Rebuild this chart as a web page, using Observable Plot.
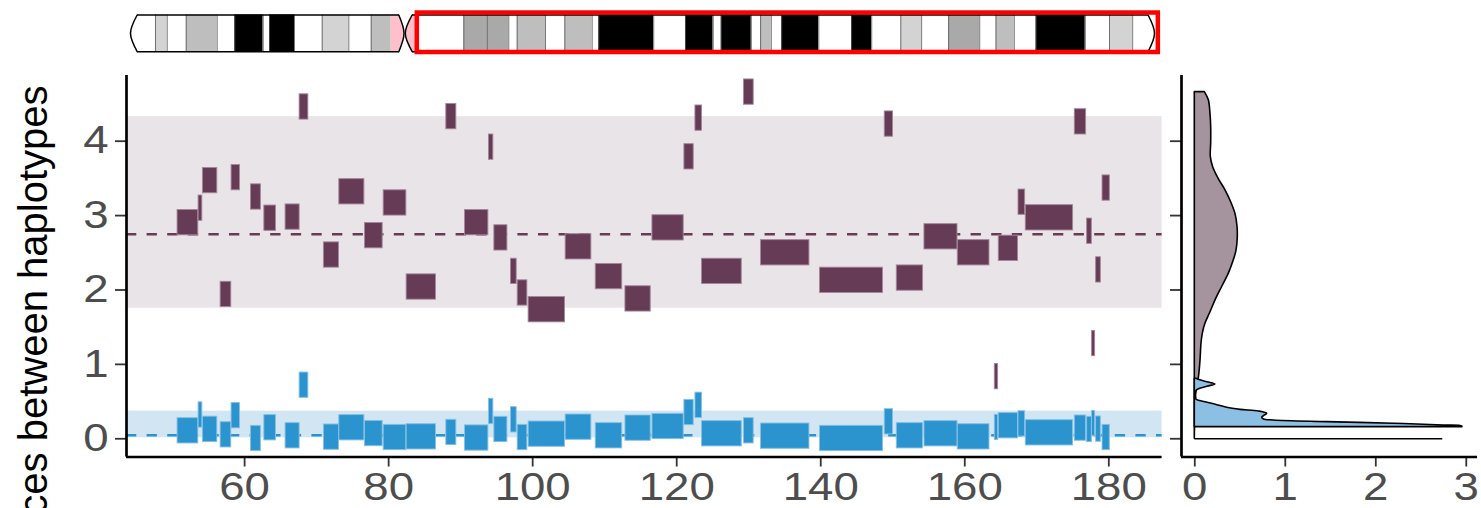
<!DOCTYPE html>
<html><head><meta charset="utf-8">
<script src="https://cdn.jsdelivr.net/npm/d3@7"></script>
<script src="https://cdn.jsdelivr.net/npm/@observablehq/plot@0.6"></script>
<style>
html,body{margin:0;padding:0;background:#fff;}
#wrap{position:relative;width:1481px;height:508px;overflow:hidden;background:#fff;font-family:"Liberation Sans",Arial,sans-serif;}
#wrap svg{position:absolute;}
</style></head><body><div id="wrap"></div>
<script>
// ---------- data: genomic segments (Mb) ----------
const segStart = [50.69, 53.61, 54.21, 56.67, 58.19, 60.88, 62.74, 65.69, 67.64, 71.01, 73.15, 76.71, 79.31, 82.50, 88.01, 90.60, 93.93, 94.68, 96.99, 97.92, 99.44, 104.58, 108.76, 112.88, 116.63, 121.07, 122.60, 123.51, 129.35, 131.71, 139.90, 148.89, 150.56, 154.40, 159.03, 164.17, 164.72, 167.46, 168.47, 175.28, 176.99, 177.68, 178.24, 179.13];
const segEnd = [53.57, 54.13, 56.21, 58.15, 59.35, 62.26, 64.35, 67.64, 68.85, 73.10, 76.63, 79.17, 82.46, 86.57, 89.40, 93.85, 94.54, 96.49, 97.78, 99.26, 104.49, 108.15, 112.43, 116.39, 120.97, 122.36, 123.51, 129.03, 130.69, 138.43, 148.65, 150.04, 154.21, 158.99, 163.43, 164.63, 167.40, 168.38, 175.04, 176.85, 177.64, 178.10, 178.89, 180.14];
const purpleValues = [2.905, 3.10, 3.47, 1.94, 3.51, 3.25, 2.965, 2.98, 4.46, 2.47, 3.32, 2.73, 3.17, 2.04, 4.33, 2.905, 3.92, 2.70, 2.25, 1.96, 1.735, 2.58, 2.18, 1.88, 2.835, 3.79, 4.31, 2.25, 4.66, 2.50, 2.13, 4.23, 2.16, 2.715, 2.50, 0.835, 2.56, 3.18, 2.97, 4.26, 2.79, 1.28, 2.27, 3.37];
const blueValues = [0.107, 0.32, 0.127, 0.053, 0.31, 0.004, 0.148, 0.04, 0.72, 0.022, 0.148, 0.07, 0.017, 0.026, 0.085, 0.01, 0.367, 0.125, 0.255, 0.017, 0.062, 0.156, 0.04, 0.143, 0.165, 0.353, 0.45, 0.067, 0.107, 0.035, 0.004, 0.228, 0.04, 0.067, 0.026, 0.152, 0.175, 0.2, 0.08, 0.143, 0.125, 0.205, 0.13, 0.017];
// summary lines / bands
const purpleMean = 2.75, purpleBandLow = 1.755, purpleBandHigh = 4.33;
const blueMean = 0.048, blueBandLow = 0.013, blueBandHigh = 0.371;
// tick labels
const xTicks = [60, 80, 100, 120, 140, 160, 180];
const yTicks = [0, 1, 2, 3, 4];
const densTicks = [0, 1, 2, 3];
const yTitle = "Differences between haplotypes";
// ---------- density outlines (right panel) ----------
const purpleDensY = [4.66, 4.55, 4.37, 4.19, 3.97, 3.79, 3.65, 3.49, 3.34, 3.18, 3.02, 2.85, 2.71, 2.53, 2.40, 2.22, 2.04, 1.86, 1.68, 1.55, 1.41, 1.28, 1.05, 0.87, 0.78, 0.61, 0.47, 0.30, 0.15, 0.0];
const purpleDensX = [0.111, 0.155, 0.173, 0.181, 0.181, 0.177, 0.203, 0.265, 0.339, 0.402, 0.450, 0.472, 0.475, 0.461, 0.431, 0.376, 0.302, 0.229, 0.166, 0.118, 0.088, 0.074, 0.063, 0.050, 0.040, 0.015, 0.008, 0.004, 0.002, 0.0];
const blueDensY = [0.806, 0.79, 0.76, 0.73, 0.70, 0.665, 0.645, 0.60, 0.55, 0.524, 0.492, 0.455, 0.416, 0.389, 0.367, 0.336, 0.31, 0.282, 0.26, 0.246, 0.224, 0.202, 0.179, 0.165, 0.156];
const blueDensX = [0.02, 0.05, 0.14, 0.228, 0.14, 0.045, 0.02, 0.012, 0.015, 0.02, 0.118, 0.24, 0.358, 0.505, 0.708, 0.80, 0.77, 0.745, 0.763, 0.874, 1.46, 2.2, 2.75, 2.956, 2.956];
const zeroPeak = 2.74;
// ---------- chromosome ideogram (Mb) ----------
const chrLength = 190.19;
const bandStart = [0, 4.64, 6.82, 10.35, 16.10, 19.37, 24.65, 25.82, 30.46, 35.61, 40.55, 44.71, 48.42, 50.89, 53.31, 61.91, 66.25, 70.26, 71.82, 77.08, 80.67, 85.75, 86.98, 97.18, 103.08, 108.23, 109.72, 115.31, 117.03, 119.02, 120.95, 127.84, 133.93, 137.67, 143.07, 146.94, 151.95, 157.73, 160.75, 164.15, 168.20, 177.34, 181.83, 186.14];
const bandEnd = [4.64, 6.82, 10.35, 16.10, 19.37, 24.65, 25.82, 30.46, 35.61, 40.55, 44.71, 48.42, 50.89, 53.31, 61.91, 66.25, 70.26, 71.82, 77.08, 80.67, 85.75, 86.98, 97.18, 103.08, 108.23, 109.72, 115.31, 117.03, 119.02, 120.95, 127.84, 133.93, 137.67, 143.07, 146.94, 151.95, 157.73, 160.75, 164.15, 168.20, 177.34, 181.83, 186.14, 190.19];
const bandStain = ["gneg","gpos25","gneg","gpos50","gneg","gpos100","gneg","gpos100","gneg","gpos25","gneg","gpos50","acen","acen","gneg","gpos75","gpos75","gneg","gpos50","gneg","gpos50","gneg","gpos100","gneg","gpos100","gneg","gpos100","gneg","gpos50","gneg","gpos100","gneg","gpos100","gneg","gpos25","gneg","gpos75","gneg","gpos50","gneg","gpos100","gneg","gpos25","gneg"];
const capY = [1, 0.5, 0];
const leftCapX = [1.24, 0, 1.24];
const pArcX = [49.83, 50.80, 49.83];
const qArcX = [52.32, 51.04, 52.32];
const rightCapX = [189.0, 190.19, 189.0];
const highlight = {start: 53.27, end: 190.9};

// ---------- build tables ----------
const segs = segStart.map((s, i) => ({start: s, end: segEnd[i], purple: purpleValues[i], blue: blueValues[i]}));
const purpleDens = purpleDensY.map((y, i) => ({y, x: purpleDensX[i]}));
const blueDens = blueDensY.map((y, i) => ({y, x: blueDensX[i]}));
const stainColor = {gneg: "#FFFFFF", gpos25: "#D3D3D3", gpos50: "#BEBEBE", gpos75: "#A9A9A9", gpos100: "#000000", acen: "#FFC0CB"};
const bands = bandStart.map((s, i) => ({start: s, end: bandEnd[i], stain: bandStain[i]}));
const dividers = bands.slice(1).filter((b, i) => b.stain !== "acen" && bands[i].stain !== "acen").map(b => b.start);
const cenP = capY.map((y, i) => ({y, x1: bandStart[12], x2: pArcX[i]}));
const cenQ = capY.map((y, i) => ({y, x1: qArcX[i], x2: bandEnd[13]}));
const arcs = [];
[["l", leftCapX], ["p", pArcX], ["q", qArcX], ["r", rightCapX]].forEach(([k, xs]) => xs.forEach((x, i) => arcs.push({arc: k, x, y: capY[i]})));
const edges = [
  {x1: leftCapX[0], x2: pArcX[0], y: 1}, {x1: leftCapX[0], x2: pArcX[0], y: 0},
  {x1: qArcX[0], x2: rightCapX[0], y: 1}, {x1: qArcX[0], x2: rightCapX[0], y: 0}
];

const FONT = '"Liberation Sans", Arial, sans-serif';
const yDom = [-0.245, 4.883];
const halfH = 0.17;
const purple = "#663B56", blue = "#2B94CE";
const wrap = document.getElementById("wrap");
function place(svg, left, top) {
  svg.style.position = "absolute"; svg.style.left = left + "px"; svg.style.top = top + "px";
  svg.style.background = "transparent"; svg.style.maxWidth = "none";
  wrap.appendChild(svg);
}
function widenLabels(svg) {
  d3.select(svg).selectAll('g[aria-label$="tick label"] text').each(function () {
    const t = this.getAttribute("transform") || "";
    this.setAttribute("transform", t + " scale(1.2,1)");
  });
}

// ---------- main panel ----------
const main = Plot.plot({
  width: 1170, height: 508, marginLeft: 126, marginRight: 8.4, marginTop: 75, marginBottom: 51.5,
  style: {fontFamily: FONT, background: "transparent", color: "black"},
  x: {domain: [43.6, 187.4]},
  y: {domain: yDom},
  marks: [
    Plot.rect([{lo: purpleBandLow, hi: purpleBandHigh}], {y1: "lo", y2: "hi", fill: "#E9E4E8"}),
    Plot.rect([{lo: blueBandLow, hi: blueBandHigh}], {y1: "lo", y2: "hi", fill: "#D2E5F2"}),
    Plot.ruleY([purpleMean], {stroke: purple, strokeWidth: 2.6, strokeDasharray: "10.3,10.3"}),
    Plot.ruleY([blueMean], {stroke: blue, strokeWidth: 2.6, strokeDasharray: "10.3,10.3"}),
    Plot.rect(segs, {x1: "start", x2: "end", y1: d => d.purple - halfH, y2: d => d.purple + halfH, fill: purple, stroke: "#A5879A", strokeWidth: 0.9}),
    Plot.rect(segs, {x1: "start", x2: "end", y1: d => d.blue - halfH, y2: d => d.blue + halfH, fill: blue, stroke: "#86C0E6", strokeWidth: 0.9}),
    Plot.axisX({ticks: xTicks, tickFormat: "d", tickSize: 10, tickPadding: 6, fontSize: 38, stroke: "#333333", strokeWidth: 1.8, fill: "#4D4D4D", label: null}),
    Plot.axisY({ticks: yTicks, tickFormat: "d", tickSize: 11, tickPadding: 7, fontSize: 38, stroke: "#333333", strokeWidth: 1.8, fill: "#4D4D4D", label: null}),
    Plot.ruleY([yDom[0]], {stroke: "black", strokeWidth: 2.7}),
    Plot.ruleX([43.6], {stroke: "black", strokeWidth: 2.7}),
    Plot.text([yTitle], {frameAnchor: "top-left", dx: -108, dy: 10, rotate: -90, textAnchor: "end", fontSize: 40, fill: "black"})
  ]
});
widenLabels(main);
place(main, 0, 0);

// ---------- density panel ----------
const dens = Plot.plot({
  width: 311, height: 508, marginLeft: 11, marginRight: 4, marginTop: 75, marginBottom: 51.5,
  style: {fontFamily: FONT, background: "transparent", color: "black"},
  x: {domain: [-0.147, 3.124]},
  y: {domain: yDom},
  marks: [
    Plot.areaX(purpleDens, {y: "y", x: "x", fill: "#A5939E", stroke: "black", strokeWidth: 1.6, curve: "catmull-rom"}),
    Plot.areaX(blueDens, {y: "y", x: "x", fill: "#8BC0E4", stroke: "black", strokeWidth: 1.6, curve: "catmull-rom"}),
    Plot.ruleY([0], {x1: 0, x2: zeroPeak, stroke: "black", strokeWidth: 1.6}),
    Plot.axisX({ticks: densTicks, tickFormat: "d", tickSize: 10, tickPadding: 6, fontSize: 38, stroke: "#333333", strokeWidth: 1.8, fill: "#4D4D4D", label: null}),
    Plot.axisY({ticks: yTicks, tickSize: 11, tickFormat: () => "", stroke: "#333333", strokeWidth: 1.8, label: null}),
    Plot.ruleY([yDom[0]], {stroke: "black", strokeWidth: 2.7}),
    Plot.ruleX([-0.147], {stroke: "black", strokeWidth: 2.7})
  ]
});
widenLabels(dens);
place(dens, 1170, 0);

// ---------- ideogram ----------
const ideo = Plot.plot({
  width: 1481, height: 62, margin: 0,
  style: {background: "transparent"},
  x: {domain: [0, chrLength], range: [130, 1154], axis: null},
  y: {domain: [0, 1], range: [51.2, 14.5], axis: null},
  color: {type: "identity"},
  marks: [
    Plot.rect(bands.filter(d => d.stain !== "acen"), {x1: "start", x2: "end", y1: () => 0, y2: () => 1, fill: d => stainColor[d.stain]}),
    Plot.areaX(cenP, {y: "y", x1: "x1", x2: "x2", fill: stainColor.acen, curve: "natural"}),
    Plot.areaX(cenQ, {y: "y", x1: "x1", x2: "x2", fill: stainColor.acen, curve: "natural"}),
    Plot.ruleX(dividers, {y1: () => 0, y2: () => 1, stroke: "#555555", strokeWidth: 0.8}),
    Plot.link(edges, {x1: "x1", x2: "x2", y1: "y", y2: "y", stroke: "black", strokeWidth: 1.5}),
    Plot.line(arcs, {x: "x", y: "y", z: "arc", curve: "natural", stroke: "black", strokeWidth: 1.5}),
    Plot.rect([highlight], {x1: "start", x2: "end", y1: () => -0.022, y2: () => 1.054, fill: "none", stroke: "red", strokeWidth: 4.5})
  ]
});
place(ideo, 0, 0);
</script></body></html>
